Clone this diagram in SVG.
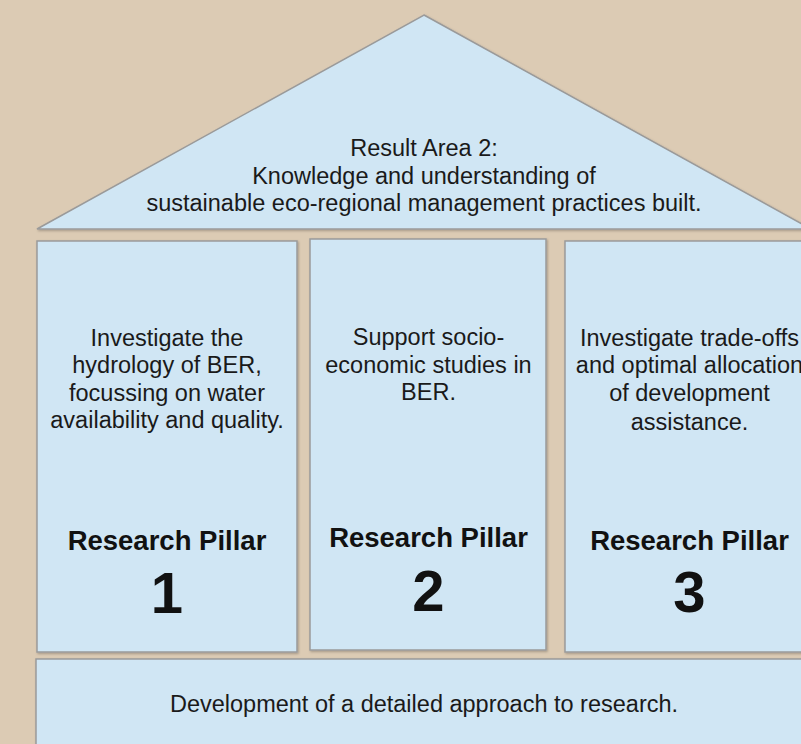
<svg xmlns="http://www.w3.org/2000/svg" width="801" height="744" viewBox="0 0 801 744">
  <style>
    .panel { fill: #d0e6f4; stroke: #9a9a9a; stroke-width: 1.5; filter: url(#shade); }
    .txt { font-family: "Liberation Sans", Arial, sans-serif; font-size: 23.5px; fill: #1a1a1a; text-anchor: middle; }
    .title { font-family: "Liberation Sans", Arial, sans-serif; font-size: 27.5px; font-weight: bold; fill: #111; text-anchor: middle; }
    .num { font-family: "Liberation Sans", Arial, sans-serif; font-size: 58px; font-weight: bold; fill: #111; text-anchor: middle; }
  </style>
  <defs>
    <filter id="shade" x="-5%" y="-5%" width="110%" height="110%">
      <feDropShadow dx="1" dy="1.2" stdDeviation="0.8" flood-color="#000" flood-opacity="0.25"/>
    </filter>
  </defs>

  <!-- backdrop -->
  <rect x="0" y="0" width="801" height="744" fill="#dccbb4"/>

  <!-- roof: result area -->
  <g id="roof">
    <polygon class="panel" points="424,15 811,229 37,229"/>
    <text class="txt" x="424" y="156">Result Area 2:</text>
    <text class="txt" x="424" y="184">Knowledge and understanding of</text>
    <text class="txt" x="424" y="211">sustainable eco-regional management practices built.</text>
  </g>

  <!-- pillar 1 -->
  <g id="pillar1">
    <rect class="panel" x="37" y="241" width="260" height="411"/>
    <text class="txt" x="167" y="346">Investigate the</text>
    <text class="txt" x="167" y="373">hydrology of BER,</text>
    <text class="txt" x="167" y="401">focussing on water</text>
    <text class="txt" x="167" y="428">availability and quality.</text>
    <text class="title" x="167" y="550">Research Pillar</text>
    <text class="num" x="167" y="613">1</text>
  </g>

  <!-- pillar 2 -->
  <g id="pillar2">
    <rect class="panel" x="310" y="239" width="236" height="411"/>
    <text class="txt" x="428.5" y="345">Support socio-</text>
    <text class="txt" x="428.5" y="373">economic studies in</text>
    <text class="txt" x="428.5" y="400">BER.</text>
    <text class="title" x="428.5" y="547">Research Pillar</text>
    <text class="num" x="428.5" y="611">2</text>
  </g>

  <!-- pillar 3 -->
  <g id="pillar3">
    <rect class="panel" x="565" y="241" width="249" height="411"/>
    <text class="txt" x="689.5" y="346">Investigate trade-offs</text>
    <text class="txt" x="689.5" y="373">and optimal allocation</text>
    <text class="txt" x="689.5" y="401">of development</text>
    <text class="txt" x="689.5" y="430">assistance.</text>
    <text class="title" x="689.5" y="550">Research Pillar</text>
    <text class="num" x="689.5" y="612">3</text>
  </g>

  <!-- foundation -->
  <g id="foundation">
    <rect class="panel" x="36" y="659" width="790" height="100"/>
    <text class="txt" x="424" y="712">Development of a detailed approach to research.</text>
  </g>

  <g id="connectors"/>
</svg>
